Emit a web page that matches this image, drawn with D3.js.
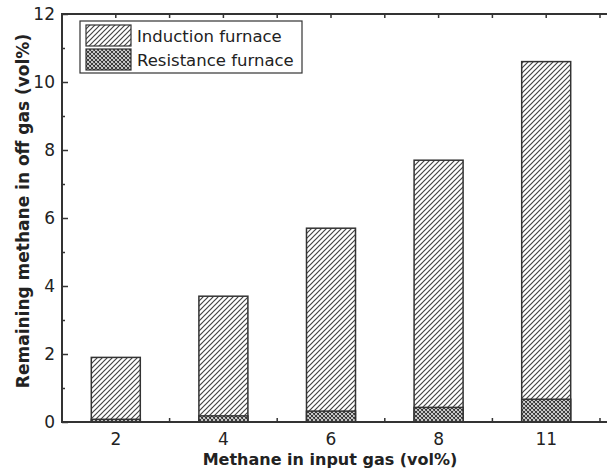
<!DOCTYPE html>
<html>
<head>
<meta charset="utf-8">
<script src="https://cdn.jsdelivr.net/npm/d3@7"></script>
<style>
  body { margin: 0; background: #fff; }
  svg { font-family: "DejaVu Sans", Verdana, sans-serif; }
</style>
</head>
<body>
<svg id="chart" width="607" height="468"></svg>
<script>
// data
var categories = ['2', '4', '6', '8', '11'];
var induction = [1.9, 3.7, 5.7, 7.7, 10.6];
var resistance = [0.08, 0.18, 0.32, 0.43, 0.67];
var yTicks = [0, 2, 4, 6, 8, 10, 12];
var yMinorTicks = [1, 3, 5, 7, 9, 11];
var seriesNames = ['Induction furnace', 'Resistance furnace'];

var svg = d3.select('#chart');
var plotL = 62, plotT = 14, plotR = 600, plotB = 422;
var ink = '#333';

// hatch patterns
var defs = svg.append('defs');
var diag = defs.append('pattern')
    .attr('id', 'diag')
    .attr('patternUnits', 'userSpaceOnUse')
    .attr('width', 5).attr('height', 5);
diag.append('rect').attr('width', 5).attr('height', 5).attr('fill', '#fff');
diag.append('path')
    .attr('d', 'M-1,1 l2,-2 M0,5 l5,-5 M4,6 l2,-2')
    .attr('stroke', '#444').attr('stroke-width', 1.2);

var cross = defs.append('pattern')
    .attr('id', 'cross')
    .attr('patternUnits', 'userSpaceOnUse')
    .attr('width', 4).attr('height', 4);
cross.append('rect').attr('width', 4).attr('height', 4).attr('fill', '#fff');
cross.append('path')
    .attr('d', 'M-1,1 l2,-2 M0,4 l4,-4 M3,5 l2,-2 M-1,3 l2,2 M0,0 l4,4 M3,-1 l2,2')
    .attr('stroke', '#333').attr('stroke-width', 1.1);

var x = d3.scalePoint().domain(categories).range([plotL, plotR]).padding(0.5);
var y = d3.scaleLinear().domain([0, 12]).range([plotB, plotT]);
var barW = 49;

// bars: induction drawn full height, resistance over its base
svg.append('g').selectAll('rect')
  .data(induction)
  .enter().append('rect')
    .attr('x', (d, i) => x(categories[i]) - barW / 2)
    .attr('y', (d) => y(d))
    .attr('width', barW)
    .attr('height', (d) => y(0) - y(d))
    .attr('fill', 'url(#diag)')
    .attr('stroke', ink).attr('stroke-width', 1.5);

svg.append('g').selectAll('rect')
  .data(resistance)
  .enter().append('rect')
    .attr('x', (d, i) => x(categories[i]) - barW / 2)
    .attr('y', (d) => y(d))
    .attr('width', barW)
    .attr('height', (d) => y(0) - y(d))
    .attr('fill', 'url(#cross)')
    .attr('stroke', ink).attr('stroke-width', 1.5);

// frame (right side falls off the picture)
svg.append('path')
    .attr('d', 'M607,' + plotT + 'H' + plotL + 'V' + plotB + 'H607')
    .attr('fill', 'none').attr('stroke', ink).attr('stroke-width', 2);

// y axis, ticks pointing inward
var yAxis = svg.append('g')
    .attr('transform', 'translate(' + plotL + ',0)')
    .call(d3.axisRight(y).tickValues(yTicks).tickSize(6).tickFormat(''));
yAxis.select('.domain').remove();
yAxis.selectAll('line').attr('stroke', ink).attr('stroke-width', 1.5);

var yMinor = svg.append('g')
    .attr('transform', 'translate(' + plotL + ',0)')
    .call(d3.axisRight(y).tickValues(yMinorTicks).tickSize(3).tickFormat(''));
yMinor.select('.domain').remove();
yMinor.selectAll('line').attr('stroke', ink).attr('stroke-width', 1.5);

svg.append('g').selectAll('text')
  .data(yTicks)
  .enter().append('text')
    .attr('x', plotL - 7)
    .attr('y', (d) => y(d) + 6)
    .attr('text-anchor', 'end')
    .attr('font-size', 17)
    .attr('fill', '#222')
    .text((d) => d);

// x ticks between categories
var step = x.step();
var mids = categories.map((c) => x(c) + step / 2);
svg.append('g').selectAll('line')
  .data(mids)
  .enter().append('line')
    .attr('x1', (d) => d).attr('x2', (d) => d)
    .attr('y1', plotB).attr('y2', plotB - 4)
    .attr('stroke', ink).attr('stroke-width', 1.5);
svg.append('g').selectAll('line')
  .data(mids.concat(categories.map((c) => x(c))))
  .enter().append('line')
    .attr('x1', (d) => d).attr('x2', (d) => d)
    .attr('y1', plotT).attr('y2', plotT + 4)
    .attr('stroke', ink).attr('stroke-width', 1.5);

svg.append('g').selectAll('text')
  .data(categories)
  .enter().append('text')
    .attr('x', (d) => x(d))
    .attr('y', 445)
    .attr('text-anchor', 'middle')
    .attr('font-size', 17)
    .attr('fill', '#222')
    .text((d) => d);

// axis titles
svg.append('text')
    .attr('x', 330).attr('y', 465)
    .attr('text-anchor', 'middle')
    .attr('font-size', 16).attr('font-weight', 'bold')
    .attr('fill', '#222')
    .text('Methane in input gas (vol%)');

svg.append('text')
    .attr('transform', 'translate(29,211) rotate(-90)')
    .attr('text-anchor', 'middle')
    .attr('font-size', 17).attr('font-weight', 'bold')
    .attr('fill', '#222')
    .text('Remaining methane in off gas (vol%)');

// legend
var legend = svg.append('g');
legend.append('rect')
    .attr('x', 80).attr('y', 21).attr('width', 222).attr('height', 52)
    .attr('fill', '#fff').attr('stroke', ink).attr('stroke-width', 1.2);
legend.selectAll('.sw')
  .data(seriesNames)
  .enter().append('rect')
    .attr('x', 86)
    .attr('y', (d, i) => 25 + i * 24)
    .attr('width', 45).attr('height', 21)
    .attr('fill', (d, i) => i ? 'url(#cross)' : 'url(#diag)')
    .attr('stroke', ink).attr('stroke-width', 1.2);
legend.selectAll('text')
  .data(seriesNames)
  .enter().append('text')
    .attr('x', 137)
    .attr('y', (d, i) => 42 + i * 24)
    .attr('font-size', 16.5)
    .attr('fill', '#222')
    .text((d) => d);
</script>
</body>
</html>
